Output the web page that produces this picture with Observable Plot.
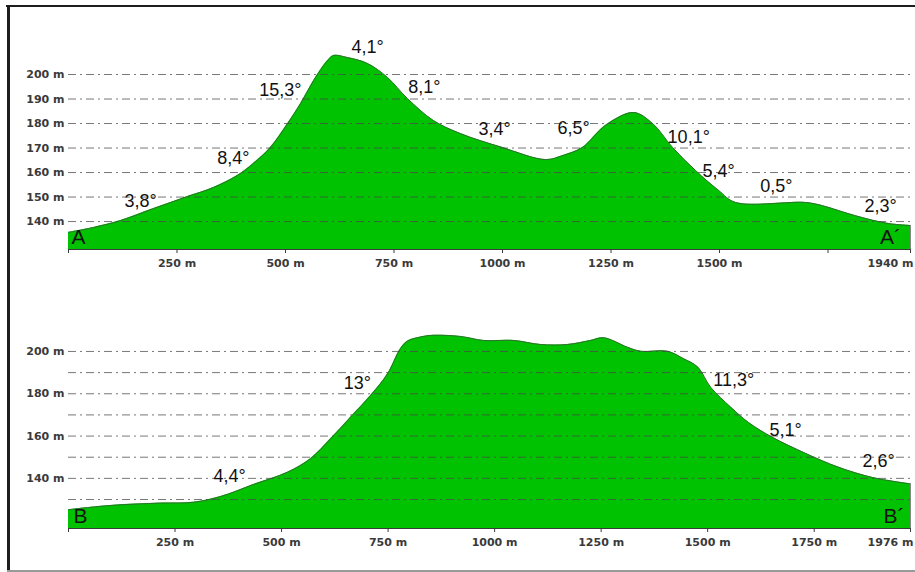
<!DOCTYPE html>
<html>
<head>
<meta charset="utf-8">
<script src="https://cdn.jsdelivr.net/npm/d3@7"></script>
<script src="https://cdn.jsdelivr.net/npm/@observablehq/plot@0.6"></script>
<style>
  html, body { margin: 0; padding: 0; background: #fff; }
  #wrap { position: relative; width: 915px; height: 572px; overflow: hidden; background: #fff; }
  .panel { position: absolute; left: 0; }
  .bt { position: absolute; left: 6px; top: 5px; width: 909px; height: 2px; background: #1e1e1e; }
  .bl { position: absolute; left: 7px; top: 5px; width: 3px; height: 567px; background: #1e1e1e; }
  .bb { position: absolute; left: 7px; top: 570px; width: 908px; height: 2px; background: #9a9a9a; }
</style>
</head>
<body>
<div id="wrap">
  <div class="bt"></div><div class="bl"></div><div class="bb"></div>
  <div id="top" class="panel" style="top:8px"></div>
  <div id="bottom" class="panel" style="top:279px"></div>
</div>
<script>
// ---- Profile A – A´ ----
const topDist = [0, 58, 120, 196, 274, 334, 389, 426, 465, 505, 535, 565, 597, 611, 643, 689, 735, 781, 841, 903, 1000, 1099, 1138, 1184, 1237, 1302, 1346, 1392, 1445, 1498, 1537, 1698, 1737, 1813, 1889, 1940];
const topElev = [135.6, 137.6, 140.4, 145.3, 150.2, 153.9, 158.8, 163.7, 170.2, 180, 188.2, 197.6, 205.7, 207.8, 206.9, 204.5, 198.8, 190.2, 181.2, 175.9, 170.2, 165.3, 166.9, 170.2, 179.2, 184.5, 180, 170.2, 160.8, 152.7, 147.8, 147.8, 146.5, 142.4, 139.2, 138.4];
const topGrid = [140, 150, 160, 170, 180, 190, 200];
const topYTicks = [140, 150, 160, 170, 180, 190, 200];
const topXTicks = [0, 250, 500, 750, 1000, 1250, 1500, 1750, 1940];
const topXLabels = ["", "250 m", "500 m", "750 m", "1000 m", "1250 m", "1500 m", "", "1940 m"];
const topAngleText = ["4,1°", "15,3°", "8,1°", "8,4°", "3,8°", "3,4°", "6,5°", "10,1°", "5,4°", "0,5°", "2,3°"];
const topAngleDist = [689, 488, 820, 380, 166, 982, 1164, 1429, 1498, 1631, 1871];
const topAngleElev = [211, 193.5, 194.7, 166, 148.2, 177.6, 178, 174.3, 160.4, 154.3, 146.1];
const topEndText = ["A", "A´"];
const topEndDist = [23, 1894];
const topEndElev = [133.4, 133.4];

// ---- Profile B – B´ ----
const botDist = [0, 99, 216, 293, 357, 434, 514, 568, 615, 662, 709, 749, 779, 796, 826, 850, 920, 974, 1045, 1108, 1171, 1225, 1256, 1312, 1343, 1406, 1444, 1477, 1507, 1554, 1596, 1653, 1730, 1808, 1887, 1976];
const botElev = [125.2, 127.2, 128.3, 128.7, 131.4, 137.1, 142.9, 149.3, 158.7, 168.9, 179.2, 189.5, 201.3, 204.9, 206.8, 207.6, 207.1, 205.2, 205.2, 203.3, 203.3, 205.2, 206.5, 202, 200.1, 200.1, 196.5, 192.6, 183.1, 173.7, 166.4, 159.3, 151.8, 145.2, 140.4, 137.4];
const botGrid = [130, 140, 150, 160, 170, 180, 190, 200];
const botYTicks = [140, 160, 180, 200];
const botXTicks = [0, 250, 500, 750, 1000, 1250, 1500, 1750, 1976];
const botXLabels = ["", "250 m", "500 m", "750 m", "1000 m", "1250 m", "1500 m", "1750 m", "1976 m"];
const botAngleText = ["13°", "4,4°", "11,3°", "5,1°", "2,6°"];
const botAngleDist = [678, 378, 1561, 1683, 1901];
const botAngleElev = [184.9, 140.9, 186.3, 162.6, 148];
const botEndText = ["B", "B´"];
const botEndDist = [28, 1937];
const botEndElev = [122, 122];

const GREEN = "#00c200";
const LABEL_FONT = "Liberation Sans, Arial, sans-serif";
const AXIS_FONT = "DejaVu Sans, sans-serif";
const AXIS_COLOR = "#3a3a3a";
const CURVE = "catmull-rom";

function profile({dist, elev, grid, yTicks, xTicks, xLabels, angText, angDist, angElev, endText, endDist, endElev, yDomain, xMax, height, marginTop}) {
  const pts = dist.map((d, i) => ({d, e: elev[i]}));
  const ang = angText.map((t, i) => ({t, d: angDist[i], e: angElev[i]}));
  const ends = endText.map((t, i) => ({t, d: endDist[i], e: endElev[i]}));
  const lastIdx = xTicks.length - 1;
  const lab = new Map(xTicks.map((t, i) => [t, i === lastIdx ? "" : xLabels[i]]));
  const lastLabel = [{d: xTicks[lastIdx], t: xLabels[lastIdx]}];
  return Plot.plot({
    width: 915,
    height,
    marginLeft: 68,
    marginRight: 5,
    marginTop,
    marginBottom: 30,
    style: {fontFamily: AXIS_FONT, fontSize: "11px", fontWeight: "bold", color: AXIS_COLOR, background: "transparent", overflow: "visible"},
    x: {domain: [0, xMax], ticks: xTicks, tickFormat: d => lab.get(d), tickSize: 4, tickPadding: 6, label: null, line: true},
    y: {domain: yDomain, ticks: yTicks, tickFormat: d => d + " m", tickSize: 0, tickPadding: 4, label: null},
    marks: [
      Plot.areaY(pts, {x: "d", y1: yDomain[0], y2: "e", fill: GREEN, curve: CURVE}),
      Plot.lineY(pts, {x: "d", y: "e", stroke: "#2f6f2f", strokeWidth: 1, curve: CURVE}),
      Plot.ruleY(grid, {stroke: "#4a4a4a", strokeWidth: 1, strokeDasharray: "8,4,2,4", strokeOpacity: 0.75}),
      Plot.ruleX([xMax], {y1: yDomain[0], y2: elev[elev.length - 1], stroke: "#888", strokeWidth: 1}),
      Plot.text(lastLabel, {x: "d", y: () => yDomain[0], text: "t", textAnchor: "end", dx: 3, dy: 14, fontSize: 11, fontWeight: "bold", fontFamily: AXIS_FONT, fill: AXIS_COLOR}),
      Plot.text(ang, {x: "d", y: "e", text: "t", fontSize: 18, fontWeight: "normal", fontFamily: LABEL_FONT, fill: "#111"}),
      Plot.text(ends, {x: "d", y: "e", text: "t", fontSize: 21, fontWeight: "normal", fontFamily: LABEL_FONT, fill: "#111"})
    ]
  });
}

document.getElementById("top").appendChild(profile({
  dist: topDist, elev: topElev, grid: topGrid, yTicks: topYTicks, xTicks: topXTicks, xLabels: topXLabels,
  angText: topAngleText, angDist: topAngleDist, angElev: topAngleElev,
  endText: topEndText, endDist: topEndDist, endElev: topEndElev,
  yDomain: [128.6, 210], xMax: 1940, height: 271, marginTop: 41.5
}));

document.getElementById("bottom").appendChild(profile({
  dist: botDist, elev: botElev, grid: botGrid, yTicks: botYTicks, xTicks: botXTicks, xLabels: botXLabels,
  angText: botAngleText, angDist: botAngleDist, angElev: botAngleElev,
  endText: botEndText, endDist: botEndDist, endElev: botEndElev,
  yDomain: [116.3, 210], xMax: 1976, height: 279, marginTop: 50.8
}));
</script>
</body>
</html>
